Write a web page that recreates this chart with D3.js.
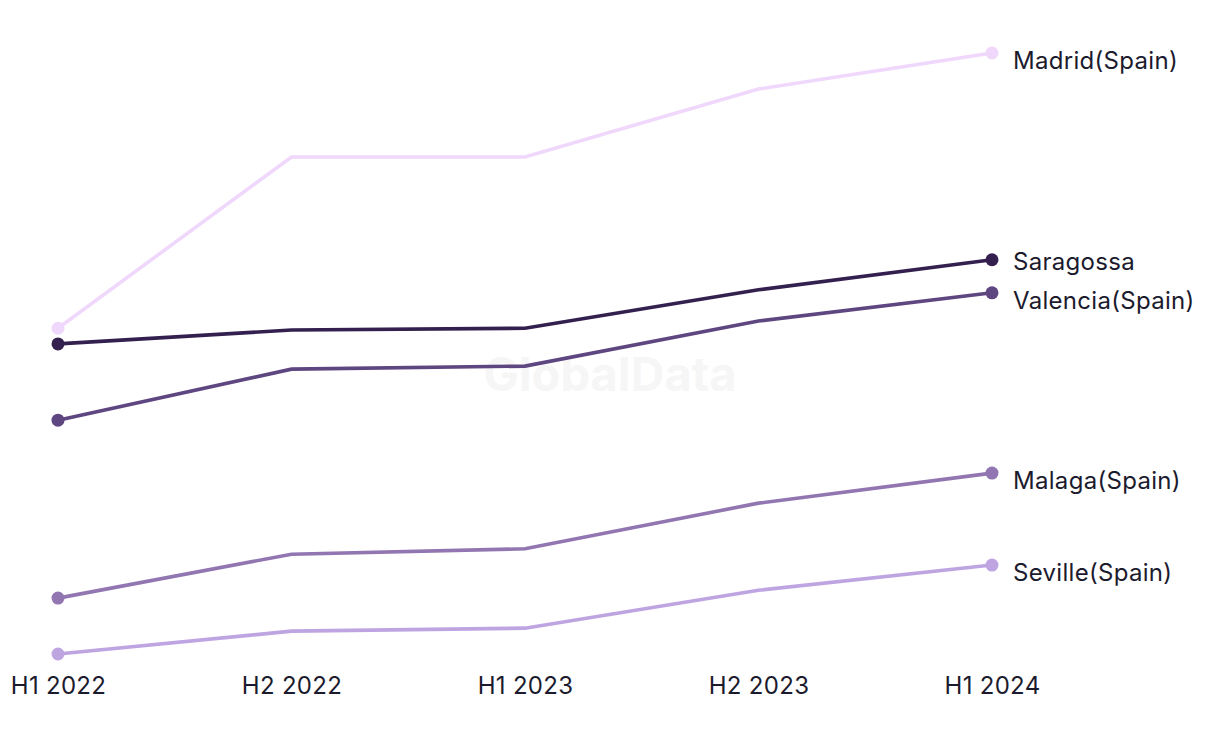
<!DOCTYPE html>
<html lang="en">
<head>
    <meta charset="UTF-8">
    <title>City line chart</title>
    <script src="https://d3js.org/d3.v7.min.js"></script>
    <style>
        body {
            margin: 0;
            padding: 0;
            background-color: #ffffff;
            font-family: Inter, "Noto Sans", Arial, sans-serif;
        }
        .label {
            font-size: 24px;
            letter-spacing: 0.3px;
            fill: #1c1b2e;
        }
    </style>
</head>
<body>
    <div id="chart"></div>

    <script>
        const width = 1220;
        const height = 744;

        // periods on the x axis
        const periods = ["H1 2022", "H2 2022", "H1 2023", "H2 2023", "H1 2024"];

        // series values (relative index)
        const madrid    = [54.2, 82.7, 82.7, 94.0, 100.0];
        const saragossa = [51.6, 53.9, 54.2, 60.6, 65.6];
        const valencia  = [38.9, 47.4, 47.9, 55.4, 60.1];
        const malaga    = [9.3, 16.6, 17.5, 25.1, 30.1];
        const seville   = [0.0, 3.8, 4.3, 10.6, 14.8];

        const seriesNames = ["Madrid(Spain)", "Saragossa", "Valencia(Spain)", "Malaga(Spain)", "Seville(Spain)"];
        const seriesValues = [madrid, saragossa, valencia, malaga, seville];
        const seriesColors = ["#f0d8fc", "#33204f", "#5e4681", "#9176b1", "#bfa4e2"];

        // vertical nudge of end labels (px), Saragossa pushed up to clear Valencia
        const labelNudge = [7, 2, 8, 7, 7];

        const svg = d3.select("#chart")
            .append("svg")
            .attr("width", width)
            .attr("height", height);

        const x = d3.scalePoint()
            .domain(periods)
            .range([58, 992]);

        const y = d3.scaleLinear()
            .domain([0, 100])
            .range([654, 53]);

        // watermark
        svg.append("text")
            .attr("x", 610)
            .attr("y", 391)
            .attr("text-anchor", "middle")
            .style("font-size", "47px")
            .style("font-weight", "bold")
            .style("fill", "#f6f6f6")
            .text("GlobalData");

        // x axis labels
        const xAxis = d3.axisBottom(x).tickSize(0).tickPadding(0);
        const axisG = svg.append("g")
            .attr("transform", "translate(0, 677)")
            .call(xAxis);
        axisG.select(".domain").remove();
        axisG.selectAll("text")
            .attr("dy", "0.71em")
            .style("font-family", "Inter, 'Noto Sans', Arial, sans-serif")
            .style("font-size", "24px")
            .style("letter-spacing", "0.3px")
            .attr("fill", "#1c1b2e");

        const line = d3.line()
            .x((d, i) => x(periods[i]))
            .y(d => y(d));

        seriesValues.forEach((vals, k) => {
            const g = svg.append("g");
            g.append("path")
                .datum(vals)
                .attr("d", line)
                .attr("fill", "none")
                .attr("stroke", seriesColors[k])
                .attr("stroke-width", 3.6);

            // dots on first and last point
            const ends = [0, vals.length - 1];
            g.selectAll("circle")
                .data(ends)
                .enter()
                .append("circle")
                .attr("cx", i => x(periods[i]))
                .attr("cy", i => y(vals[i]))
                .attr("r", 6.5)
                .attr("fill", seriesColors[k]);

            g.append("text")
                .attr("class", "label")
                .attr("x", x(periods[vals.length - 1]) + 21)
                .attr("y", y(vals[vals.length - 1]) + labelNudge[k])
                .attr("dy", "0.36em")
                .text(seriesNames[k]);
        });
    </script>
</body>
</html>
